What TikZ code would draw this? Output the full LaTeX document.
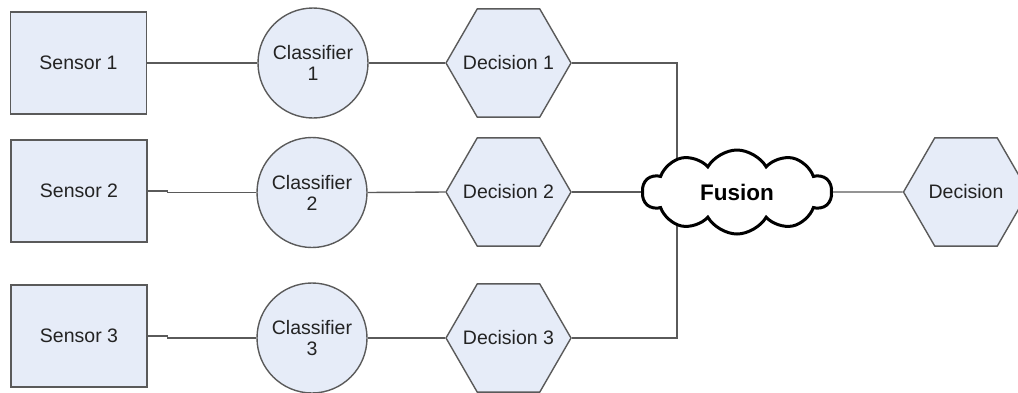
\documentclass[tikz,border=0pt]{standalone}
\usepackage{fontspec}
\setmainfont{Liberation Sans}
\usetikzlibrary{shapes.geometric,shapes.symbols,backgrounds}
\definecolor{boxfill}{RGB}{230,236,248}
\definecolor{edge}{RGB}{90,90,90}
\definecolor{txt}{RGB}{35,35,35}
\tikzset{
  base/.style={draw=edge, line width=1.4pt, fill=boxfill, inner sep=0pt, text=txt, font=\fontsize{19.5}{22}\selectfont},
  sensorbox/.style={base, rectangle, minimum width=136pt, minimum height=102pt},
  classbox/.style={base, circle, minimum size=110pt, align=center},
  hexbox/.style={base, regular polygon, regular polygon sides=6, minimum size=125pt},
  hexlabel/.style={label={[text=txt, font=\fontsize{19.5}{22}\selectfont]center:#1}},
  fusionbox/.style={cloud, draw=black, line width=3pt, fill=white, cloud puffs=10, cloud puff arc=120, cloud ignores aspect, minimum width=189pt, minimum height=84pt, inner sep=0pt, font=\fontsize{22.5}{26}\selectfont\bfseries},
  conn/.style={draw=edge, line width=1.4pt}
}
\begin{document}
\begin{tikzpicture}[x=1pt,y=-1pt]
\useasboundingbox (0,0) rectangle (1018,392);
\node[sensorbox] (s1) at (78.5,63) {Sensor 1};
\node[sensorbox] (s2) at (79,191) {Sensor 2};
\node[sensorbox] (s3) at (79,336) {Sensor 3};
\node[classbox] (c1) at (313,63) {Classifier\\[-1pt]1};
\node[classbox] (c2) at (312,192.5) {Classifier\\[-1pt]2};
\node[classbox] (c3) at (312,338) {Classifier\\[-1pt]3};
\node[hexbox, hexlabel={Decision 1}] (d1) at (508.5,63) {};
\node[hexbox, hexlabel={Decision 2}] (d2) at (508.5,192) {};
\node[hexbox, hexlabel={Decision 3}] (d3) at (508.5,338) {};
\node[fusionbox] (fusion) at (737,192) {Fusion};
\node[hexbox, hexlabel={Decision}] (d) at (966,192) {};
\coordinate (fx) at (677,192);
\begin{pgfonlayer}{background}
\draw[conn] (s1.east) -- (c1.west);
\draw[conn] (s2.east) -- ++(20,0) |- (c2.west);
\draw[conn] (s3.east) -- ++(20,0) |- (c3.west);
\draw[conn] (c1.east) -- (d1.west);
\draw[conn] (c2.east) -- (d2.west);
\draw[conn] (c3.east) -- (d3.west);
\draw[conn] (d1.east) -| (fx);
\draw[conn] (d2.east) -- (fx);
\draw[conn] (d3.east) -| (fx);
\draw[conn] (fusion.east) -- (d.west);
\end{pgfonlayer}
\end{tikzpicture}
\end{document}
